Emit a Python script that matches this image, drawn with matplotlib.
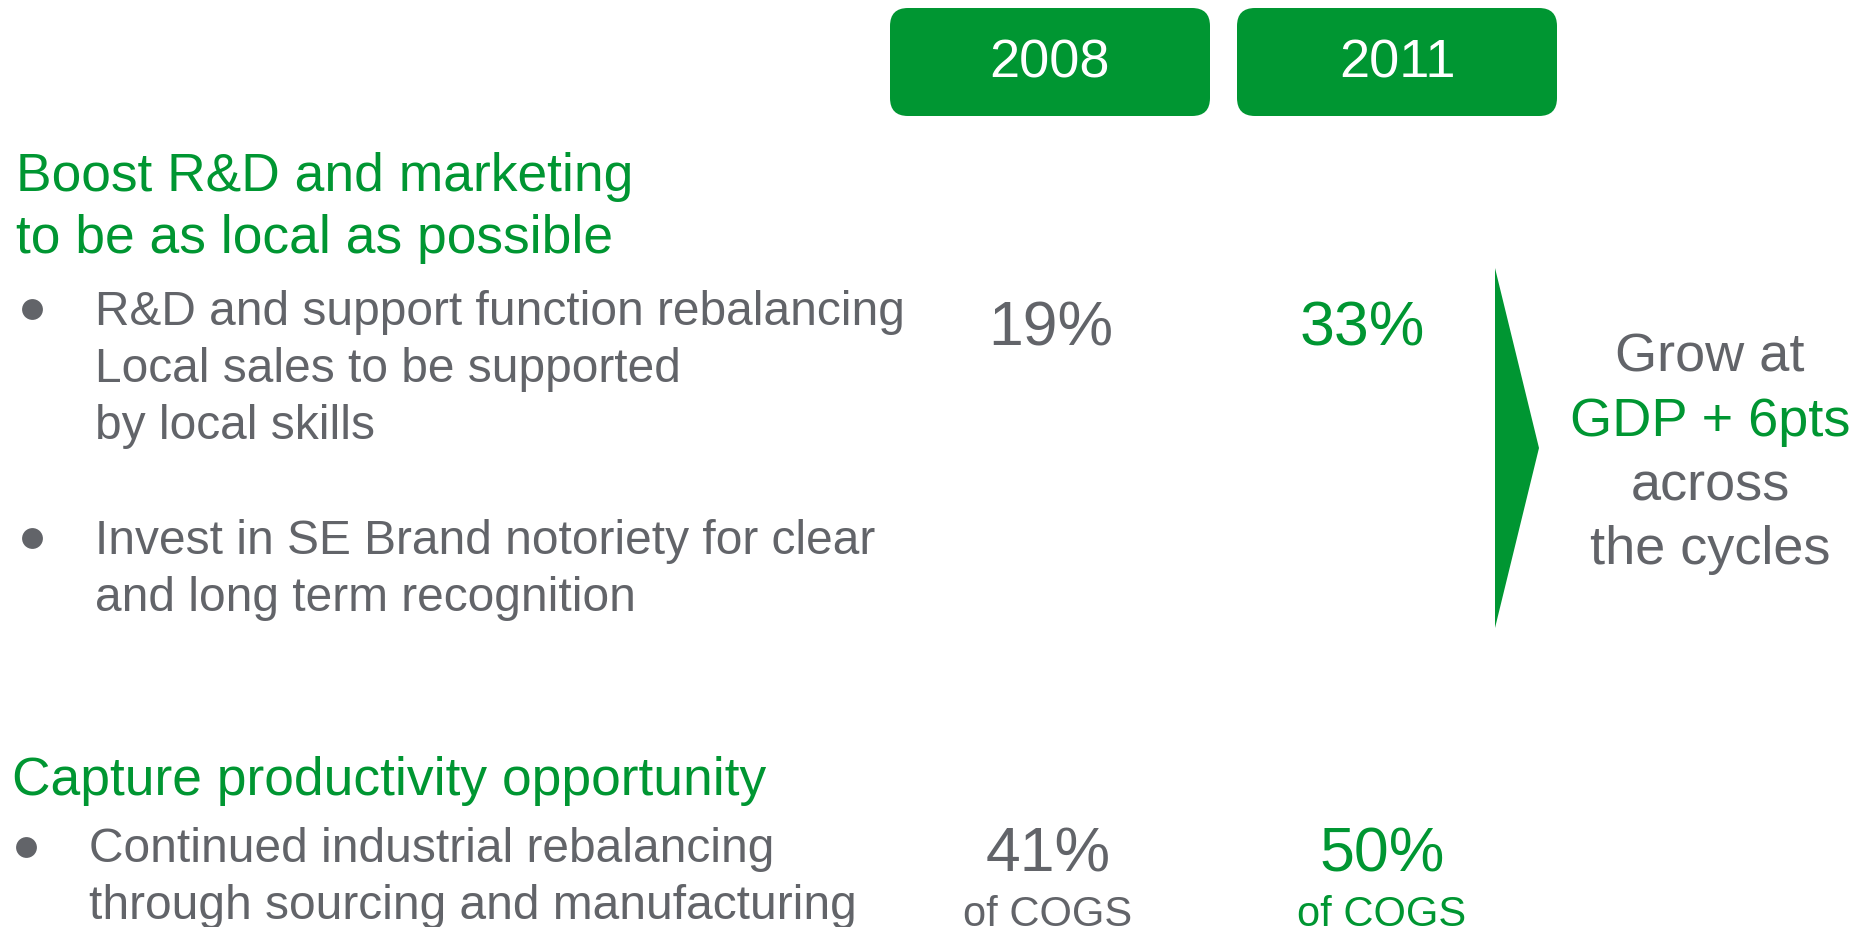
import matplotlib
matplotlib.use("Agg")
import matplotlib.pyplot as plt
from matplotlib.patches import FancyBboxPatch, Polygon

plt.rcParams['font.family'] = ['Liberation Sans', 'DejaVu Sans']

GREEN = '#009632'
GREY = '#626469'

years = ['2008', '2011']
rd_share = [19, 33]          # % R&D and marketing local
cogs_share = [41, 50]        # % of COGS
value_colors = [GREY, GREEN]

heading1 = ['Boost R&D and marketing', 'to be as local as possible']
bullet1 = ['R&D and support function rebalancing', 'Local sales to be supported', 'by local skills']
bullet2 = ['Invest in SE Brand notoriety for clear', 'and long term recognition']
heading2 = ['Capture productivity opportunity']
bullet3 = ['Continued industrial rebalancing', 'through sourcing and manufacturing']
growth = [('Grow at', GREY), ('GDP + 6pts', GREEN), ('across', GREY), ('the cycles', GREY)]

W, H = 1868, 927
fig = plt.figure(figsize=(W / 100, H / 100), dpi=100)
ax = fig.add_axes([0, 0, 1, 1])
ax.set_xlim(0, W)
ax.set_ylim(H, 0)
ax.axis('off')

# Year header boxes
box_x = [890, 1237]
box_w = 320
for x0, yr in zip(box_x, years):
    ax.add_patch(FancyBboxPatch((x0, 8), box_w, 108,
                                boxstyle='round,pad=0,rounding_size=18',
                                fc=GREEN, ec='none'))
    ax.text(x0 + box_w / 2, 77, yr, ha='center', va='baseline',
            fontsize=39, color='white')

# Heading 1
for i, line in enumerate(heading1):
    ax.text(16, 191 + i * 62, line, fontsize=38.4, color=GREEN, va='baseline')

# Bullets
def bullet(x_dot, y_dot, x_txt, y0, lines, step=57):
    ax.plot([x_dot], [y_dot], marker='o', markersize=15, color=GREY, mec='none')
    for i, line in enumerate(lines):
        ax.text(x_txt, y0 + i * step, line, fontsize=34.5, color=GREY, va='baseline')

bullet(32, 309, 95, 325, bullet1)
bullet(32, 538, 95, 554, bullet2)

# Heading 2
ax.text(12, 795, heading2[0], fontsize=38.4, color=GREEN, va='baseline')
bullet(26, 847, 89, 862, bullet3)

# Values
rd_cx = [1051, 1362]
cogs_cx = [1048, 1382]
for cx, v, c in zip(rd_cx, rd_share, value_colors):
    ax.text(cx, 345, f'{v}%', ha='center', va='baseline', fontsize=45, color=c)
for cx, v, c in zip(cogs_cx, cogs_share, value_colors):
    ax.text(cx, 872, f'{v}%', ha='center', va='baseline', fontsize=45, color=c)
    ax.text(cx, 926, 'of COGS', ha='center', va='baseline', fontsize=30, color=c)

# Arrow triangle
ax.add_patch(Polygon([[1495, 268], [1539, 448], [1495, 628]], closed=True,
                     fc=GREEN, ec='none'))

# Growth text
for i, (t, c) in enumerate(growth):
    ax.text(1710, 372 + i * 64, t, ha='center', va='baseline', fontsize=39, color=c)

fig.savefig('out.png', dpi=100)
